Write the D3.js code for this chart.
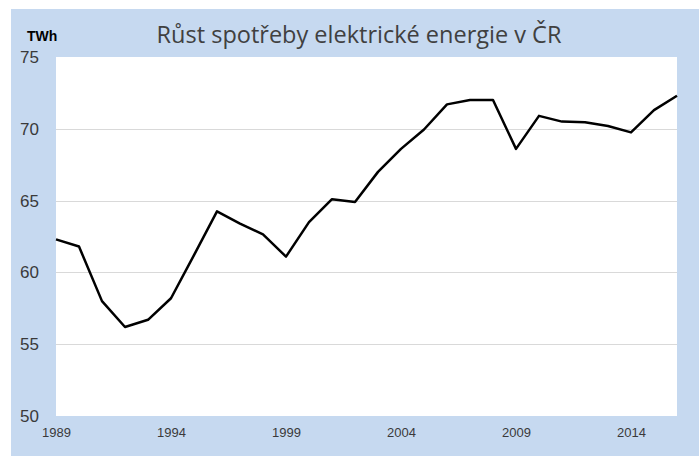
<!DOCTYPE html>
<html>
<head>
<meta charset="utf-8">
<script src="https://cdn.jsdelivr.net/npm/d3@7"></script>
<style>
  body { margin: 0; background: #ffffff; }
  svg { display: block; }
</style>
</head>
<body>
<div id="chart"></div>
<script>
// Data: yearly electricity consumption in the Czech Republic (TWh)
var years = d3.range(1989, 2017);
var consumption = [62.3, 61.8, 58.0, 56.2, 56.7, 58.2, 61.2, 64.25, 63.4, 62.65,
  61.1, 63.5, 65.1, 64.9, 67.0, 68.6, 69.95, 71.7, 72.0, 72.0,
  68.6, 70.9, 70.5, 70.45, 70.2, 69.75, 71.3, 72.3];
var yTicks = [50, 55, 60, 65, 70, 75];
var xTickYears = [1989, 1994, 1999, 2004, 2009, 2014];

var svgWidth = 699;
var svgHeight = 457;

// Plot area inside the blue panel
var chartMargin = { top: 57, right: 22, bottom: 41, left: 56 };
var chartWidth = svgWidth - chartMargin.left - chartMargin.right;
var chartHeight = svgHeight - chartMargin.top - chartMargin.bottom;

var svg = d3.select("#chart").append("svg")
  .attr("width", svgWidth)
  .attr("height", svgHeight);

// blue panel background
svg.append("rect")
  .attr("x", 11).attr("y", 9)
  .attr("width", svgWidth - 11).attr("height", svgHeight - 9 - 1)
  .attr("fill", "#c6d9f0");

var chartGroup = svg.append("g")
  .attr("transform", `translate(${chartMargin.left}, ${chartMargin.top})`);

chartGroup.append("rect")
  .attr("width", chartWidth)
  .attr("height", chartHeight)
  .attr("fill", "#ffffff");

var xScale = d3.scaleLinear().domain([1989, 2016]).range([0, chartWidth]);
var yScale = d3.scaleLinear().domain([50, 75]).range([chartHeight, 0]);

// gridlines
chartGroup.append("g")
  .selectAll("line")
  .data(yTicks.filter(d => d > 50 && d < 75))
  .enter().append("line")
  .attr("x1", 0).attr("x2", chartWidth)
  .attr("y1", d => Math.round(yScale(d)) + 0.5)
  .attr("y2", d => Math.round(yScale(d)) + 0.5)
  .attr("stroke", "#d9d9d9")
  .attr("stroke-width", 1);

// Y axis labels
var yAxis = chartGroup.append("g")
  .call(d3.axisLeft(yScale).tickValues(yTicks).tickSize(0).tickPadding(17));
yAxis.select(".domain").remove();
yAxis.selectAll("text")
  .attr("font-family", "Liberation Sans, Arial, sans-serif")
  .attr("font-size", "17px")
  .attr("fill", "#3a3a3a");

// X axis labels
var xAxis = chartGroup.append("g")
  .attr("transform", `translate(0, ${chartHeight})`)
  .call(d3.axisBottom(xScale).tickValues(xTickYears).tickFormat(d3.format("d")).tickSize(0).tickPadding(12));
xAxis.select(".domain").remove();
xAxis.selectAll("text")
  .attr("font-family", "Liberation Sans, Arial, sans-serif")
  .attr("font-size", "13px")
  .attr("fill", "#3a3a3a");

// line
var line = d3.line()
  .x((d, i) => xScale(years[i]))
  .y(d => yScale(d));

chartGroup.append("path")
  .datum(consumption)
  .attr("fill", "none")
  .attr("stroke", "#000000")
  .attr("stroke-width", 2.5)
  .attr("stroke-linejoin", "round")
  .attr("d", line);

// title and unit
svg.append("text")
  .attr("x", 359).attr("y", 43)
  .attr("text-anchor", "middle")
  .attr("font-family", "Open Sans, sans-serif")
  .attr("font-size", "23.5px")
  .attr("fill", "#404040")
  .text("Růst spotřeby elektrické energie v ČR");

svg.append("text")
  .attr("x", 27).attr("y", 41)
  .attr("font-family", "Liberation Sans, Arial, sans-serif")
  .attr("font-weight", "bold")
  .attr("font-size", "14px")
  .attr("fill", "#000000")
  .text("TWh");
</script>
</body>
</html>
